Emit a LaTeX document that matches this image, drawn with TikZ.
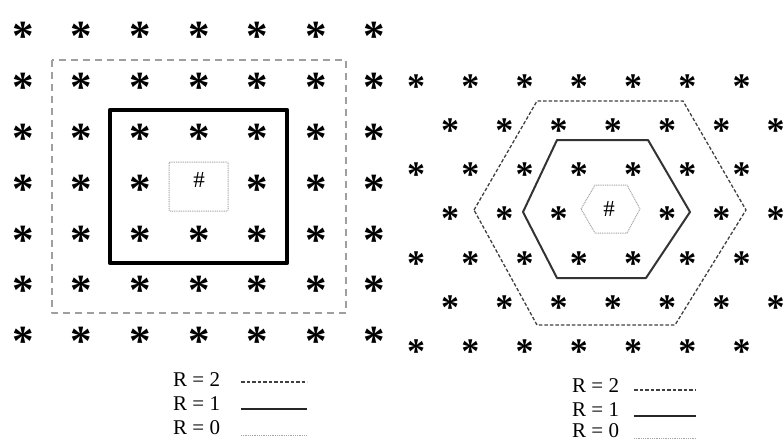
\documentclass[tikz,border=0pt]{standalone}
\usepackage{fontspec}
\setmainfont{Liberation Serif}
\begin{document}
\begin{tikzpicture}[x=1pt,y=-1pt,line join=round,
  asta/.style={font=\fontsize{43}{43}\selectfont\bfseries,inner sep=0pt,anchor=base},
  astb/.style={font=\fontsize{36}{36}\selectfont\bfseries,inner sep=0pt,anchor=base},
  hashmark/.style={font=\fontsize{23}{23}\selectfont,inner sep=0pt},
  lbl/.style={font=\fontsize{21}{21}\selectfont,inner sep=0pt,anchor=west},
  rtwo/.style={black!75,line width=1.3pt,dash pattern=on 3.5pt off 2pt},
  rone/.style={black!85,line width=2.2pt},
  rzero/.style={gray!70,line width=1pt,dash pattern=on 1pt off 0.8pt}]
  \useasboundingbox (0,0) rectangle (783,441);

  % 正方形网格
  \def\da{20.5}
  \foreach \i in {0,...,6}{
    \foreach \j in {0,...,6}{
      \pgfmathtruncatemacro\ctr{(\i==3)&&(\j==3)}
      \ifnum\ctr=0
        \node[asta] (sq\i\j) at ({23+58.6*\j},{30.5+50.75*\i+\da}) {*};
      \fi
    }
  }
  \node[hashmark] (sqc) at (199,180) {\#};

  % 左图的三个邻域
  \draw[gray!75,line width=1.2pt,dash pattern=on 7pt off 5pt] (52,60) rectangle (346,313);
  \draw[black,line width=4.5pt] (110,110) rectangle (287,263);
  \draw[rzero,rounded corners=1pt] (169,162) rectangle (228,211);

  % 六边形网格
  \def\db{16.8}
  \foreach \i in {0,...,6}{
    \foreach \j in {0,...,6}{
      \pgfmathtruncatemacro\ctr{(\i==3)&&(\j==3)}
      \pgfmathsetmacro\xo{mod(\i,2)==0 ? 416 : 450}
      \ifnum\ctr=0
        \node[astb] (hx\i\j) at ({\xo+54.25*\j},{81.5+44.2*\i+\db}) {*};
      \fi
    }
  }
  \node[hashmark] (hxc) at (609,209) {\#};

  % 右图的三个邻域
  \draw[rtwo] (474,210) -- (537,101) -- (683,101) -- (746,210) -- (675,325) -- (537,325) -- cycle;
  \draw[black!80,line width=2pt] (523,212) -- (557,140) -- (648,140) -- (690,212) -- (646,278) -- (557,278) -- cycle;
  \draw[rzero] (581,209) -- (595,185) -- (627,185) -- (640,209) -- (627,233) -- (595,233) -- cycle;

  % 左图例
  \node[lbl] (la2) at (173,380) {R = 2};
  \node[lbl] (la1) at (173,404) {R = 1};
  \node[lbl] (la0) at (173,428) {R = 0};
  \coordinate (la2s) at (241,382); \coordinate (la2e) at (307,382);
  \coordinate (la1s) at (241,409); \coordinate (la1e) at (307,409);
  \coordinate (la0s) at (241,435); \coordinate (la0e) at (307,435);
  \draw[rtwo] (la2s) -- (la2e);
  \draw[rone] (la1s) -- (la1e);
  \draw[rzero] (la0s) -- (la0e);

  % 右图例
  \node[lbl] (lb2) at (572,386) {R = 2};
  \node[lbl] (lb1) at (572,410) {R = 1};
  \node[lbl] (lb0) at (572,431) {R = 0};
  \coordinate (lb2s) at (634,390); \coordinate (lb2e) at (696,390);
  \coordinate (lb1s) at (634,416); \coordinate (lb1e) at (696,416);
  \coordinate (lb0s) at (634,438); \coordinate (lb0e) at (696,438);
  \draw[rtwo] (lb2s) -- (lb2e);
  \draw[rone] (lb1s) -- (lb1e);
  \draw[rzero] (lb0s) -- (lb0e);
\end{tikzpicture}
\end{document}
